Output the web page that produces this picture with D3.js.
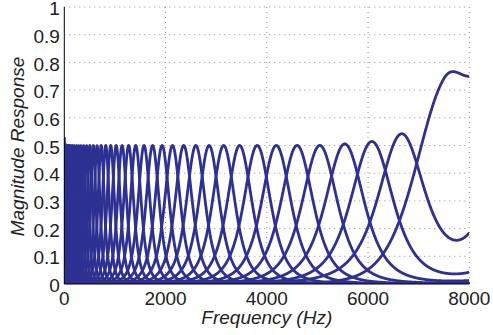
<!DOCTYPE html>
<html>
<head>
<meta charset="utf-8">
<script src="https://cdn.jsdelivr.net/npm/d3@7"></script>
<style>
  html, body { margin: 0; padding: 0; background: #fff; }
  svg { display: block; font-family: "Liberation Sans", Arial, Helvetica, sans-serif; }
</style>
</head>
<body>
<svg id="chart" width="493" height="335"></svg>
<script>
// filter bank: centre (Hz), peak gain, half widths (Hz), lobe order, fold weight at Nyquist
const centers = [0, 21, 45, 70, 98, 129, 162, 199, 239, 283, 331, 383, 441, 504, 572, 647, 729, 819, 917, 1025,
  1142, 1271, 1411, 1575, 1745, 1932, 2137, 2358, 2598, 2860, 3148, 3463, 3810, 4188, 4598, 5048, 5540, 6075, 6660, 7500];
const gains = [0.53, 0.505, 0.5, 0.5, 0.5, 0.5, 0.5, 0.5, 0.5, 0.5, 0.5, 0.5, 0.5, 0.5, 0.5, 0.5, 0.5, 0.5, 0.5, 0.5,
  0.5, 0.5, 0.5, 0.5, 0.5, 0.5, 0.5, 0.5, 0.5, 0.5, 0.5, 0.5, 0.5, 0.5, 0.5, 0.5, 0.505, 0.512, 0.528, 0.636];
const bwLow = [27.7, 30.2, 33.1, 36.2, 39.6, 43.3, 47.3, 51.8, 56.6, 61.9, 67.7, 74.0, 81.1, 88.7, 96.9, 106.0, 115.9, 126.8, 138.7, 151.7,
  165.9, 181.5, 198.4, 218.3, 238.9, 261.5, 286.3, 313.0, 342.1, 373.8, 408.6, 446.7, 488.7, 534.5, 584.1, 638.5, 698.1, 762.8, 833.6, 1600];
const bwHigh = [27.7, 30.2, 33.1, 36.2, 39.6, 43.3, 47.3, 51.8, 56.6, 61.9, 67.7, 74.0, 81.1, 88.7, 96.9, 106.0, 115.9, 126.8, 138.7, 151.7,
  165.9, 181.5, 198.4, 218.3, 238.9, 261.5, 286.3, 313.0, 342.1, 373.8, 408.6, 446.7, 488.7, 534.5, 584.1, 638.5, 698.1, 762.8, 833.6, 1330];
const orders = [2, 2, 2, 2, 2, 2, 2, 2, 2, 2, 2, 2, 2, 2, 2, 2, 2, 2, 2, 2,
  2, 2, 2, 2, 2, 2, 2, 2, 2, 2, 2, 2, 2, 2, 2, 2, 2, 2, 2, 4];
const nyquistFold = [3.5, 3.5, 3.5, 3.5, 3.5, 3.5, 3.5, 3.5, 3.5, 3.5, 3.5, 3.5, 3.5, 3.5, 3.5, 3.5, 3.5, 3.5, 3.5, 3.5,
  3.5, 3.5, 3.5, 3.5, 3.5, 3.5, 3.5, 3.5, 3.5, 3.5, 3.5, 3.5, 3.5, 3.5, 3.5, 3.5, 3.5, 3.5, 3.5, 1];

const xTicks = [0, 2000, 4000, 6000, 8000];
const yTicks = [0, 0.1, 0.2, 0.3, 0.4, 0.5, 0.6, 0.7, 0.8, 0.9, 1];
const nyquist = 8000;
const freqStep = 2;

const margin = { top: 7, right: 23.7, bottom: 51, left: 64.3 };
const width = 493 - margin.left - margin.right;
const height = 335 - margin.top - margin.bottom;
const fontSize = 19;

const svg = d3.select("#chart");
const g = svg.append("g").attr("transform", "translate(" + margin.left + "," + margin.top + ")");

const x = d3.scaleLinear().domain([0, nyquist]).range([0, width]);
const y = d3.scaleLinear().domain([0, 1]).range([height, 0]);

// dotted grid
g.append("g")
  .selectAll("line")
  .data(yTicks.filter(d => d > 0))
  .enter().append("line")
  .attr("x1", 0).attr("x2", width)
  .attr("y1", d => y(d)).attr("y2", d => y(d))
  .attr("stroke", "#8a8a8a").attr("stroke-width", 1)
  .attr("stroke-dasharray", "1,4");
g.append("g")
  .selectAll("line")
  .data(xTicks.filter(d => d > 0))
  .enter().append("line")
  .attr("x1", d => x(d)).attr("x2", d => x(d))
  .attr("y1", 0).attr("y2", height)
  .attr("stroke", "#8a8a8a").attr("stroke-width", 1)
  .attr("stroke-dasharray", "1,4");

// one lobe of filter i, wider on the high side when bwHigh > bwLow
function lobe(i, f) {
  const b = f < centers[i] ? bwLow[i] : bwHigh[i];
  const u = (f - centers[i]) / b;
  return Math.pow(1 + u * u, -orders[i]);
}
// response folds back at Nyquist
function response(i, f) {
  return gains[i] * (lobe(i, f) + nyquistFold[i] * lobe(i, 2 * nyquist - f));
}

const freqs = d3.range(0, nyquist + freqStep, freqStep);

svg.append("defs").append("clipPath").attr("id", "plotClip")
  .append("rect").attr("x", 0).attr("y", -2).attr("width", width).attr("height", height + 2);

const line = d3.line()
  .x(d => x(d[0]))
  .y(d => y(d[1]));

g.append("g")
  .attr("clip-path", "url(#plotClip)")
  .selectAll("path")
  .data(centers.map((c, i) => freqs.map(f => [f, response(i, f)])))
  .enter().append("path")
  .attr("d", line)
  .attr("fill", "none")
  .attr("stroke", "#2e3192")
  .attr("stroke-width", 2.8)
  .attr("stroke-linejoin", "round");

// axes
g.append("line").attr("x1", 0).attr("x2", 0).attr("y1", 0).attr("y2", height)
  .attr("stroke", "#000").attr("stroke-width", 1);
g.append("line").attr("x1", 0).attr("x2", width).attr("y1", height).attr("y2", height)
  .attr("stroke", "#000").attr("stroke-width", 1);

g.append("g").selectAll("text")
  .data(yTicks)
  .enter().append("text")
  .attr("x", -4.5)
  .attr("y", d => y(d))
  .attr("dy", "0.43em")
  .attr("text-anchor", "end")
  .attr("font-size", fontSize)
  .attr("fill", "#222")
  .text(d => d3.format("")(d));

g.append("g").selectAll("text")
  .data(xTicks)
  .enter().append("text")
  .attr("x", d => x(d))
  .attr("y", height + 21)
  .attr("text-anchor", "middle")
  .attr("font-size", fontSize)
  .attr("fill", "#222")
  .text(d => d);

svg.append("text")
  .attr("x", margin.left + width / 2)
  .attr("y", 324)
  .attr("text-anchor", "middle")
  .attr("font-size", fontSize)
  .attr("font-style", "italic")
  .attr("fill", "#222")
  .text("Frequency (Hz)");

svg.append("text")
  .attr("transform", "translate(" + 23.5 + "," + (margin.top + height / 2 + 1) + ") rotate(-90)")
  .attr("text-anchor", "middle")
  .attr("font-size", fontSize)
  .attr("font-style", "italic")
  .attr("fill", "#222")
  .text("Magnitude Response");
</script>
</body>
</html>
